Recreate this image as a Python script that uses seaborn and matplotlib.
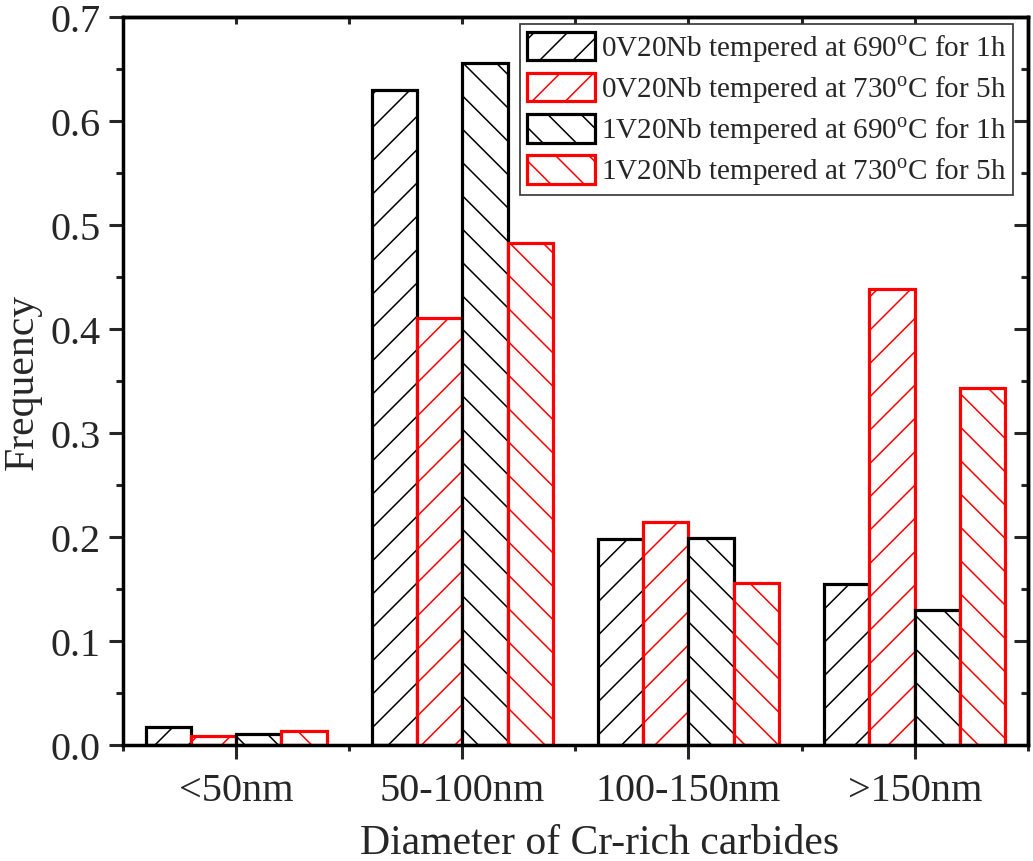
import numpy as np
import pandas as pd
import matplotlib
matplotlib.use("Agg")
import matplotlib.pyplot as plt
import matplotlib.patches as mpatches
from matplotlib.ticker import FormatStrFormatter, MultipleLocator, FixedLocator
import seaborn as sns

categories = ['<50nm', '50-100nm', '100-150nm', '>150nm']
series_labels = [
    '0V20Nb tempered at 690$^{\\mathrm{o}}$C for 1h',
    '0V20Nb tempered at 730$^{\\mathrm{o}}$C for 5h',
    '1V20Nb tempered at 690$^{\\mathrm{o}}$C for 1h',
    '1V20Nb tempered at 730$^{\\mathrm{o}}$C for 5h',
]
v_0V_690 = [0.0177, 0.630, 0.1986, 0.155]
v_0V_730 = [0.009, 0.411, 0.215, 0.439]
v_1V_690 = [0.011, 0.656, 0.199, 0.130]
v_1V_730 = [0.0138, 0.483, 0.156, 0.344]

edge_colors = ['black', '#ff0000', 'black', '#ff0000']
hatches = ['/', '/', '\\', '\\']

rows = []
for lab, vals in zip(series_labels, [v_0V_690, v_0V_730, v_1V_690, v_1V_730]):
    for c, v in zip(categories, vals):
        rows.append({'Diameter': c, 'Frequency': v, 'Sample': lab})
df = pd.DataFrame(rows)

sns.set_style('ticks')
plt.rcParams['font.family'] = ['Liberation Serif', 'DejaVu Serif']
plt.rcParams['mathtext.fontset'] = 'custom'
plt.rcParams['mathtext.rm'] = 'Liberation Serif'
plt.rcParams['hatch.linewidth'] = 1.1

fig = plt.figure(figsize=(10.33, 8.62), dpi=100)
ax = fig.add_axes([0.119, 0.134, 0.876, 0.845])

sns.barplot(data=df, x='Diameter', y='Frequency', hue='Sample',
            order=categories, hue_order=series_labels,
            palette=['white'] * 4, width=0.8, gap=0, ax=ax,
            errorbar=None, saturation=1)

for i, cont in enumerate(ax.containers):
    for p in cont.patches:
        p.set_facecolor('white')
        p.set_edgecolor(edge_colors[i])
        p.set_hatch(hatches[i])
        p.set_linewidth(2.3)

if ax.get_legend() is not None:
    ax.get_legend().remove()

handles = [mpatches.Patch(facecolor='white', edgecolor=edge_colors[i],
                          hatch=hatches[i], linewidth=2.3)
           for i in range(4)]
leg = ax.legend(handles, series_labels, loc='upper right',
                bbox_to_anchor=(0.984, 0.990), borderaxespad=0,
                fontsize=21, handlelength=2.3, handleheight=1.13,
                labelspacing=0.3, handletextpad=0.22, borderpad=0.25,
                fancybox=False, framealpha=1, edgecolor='#333333')
leg.get_frame().set_linewidth(1.2)

ax.set_xlim(-0.5, 3.5)
ax.set_ylim(0, 0.7)
ax.yaxis.set_major_locator(MultipleLocator(0.1))
ax.yaxis.set_minor_locator(MultipleLocator(0.05))
ax.yaxis.set_major_formatter(FormatStrFormatter('%.1f'))
ax.xaxis.set_minor_locator(FixedLocator([-0.5, 0.5, 1.5, 2.5, 3.5]))

ax.set_xlabel('Diameter of Cr-rich carbides', fontsize=30, labelpad=10.5)
ax.set_ylabel('Frequency', fontsize=30, labelpad=6)
ax.xaxis.label.set_x(0.527)

ax.tick_params(axis='both', which='major', labelsize=29, direction='out',
               length=10, width=2.2, pad=6)
ax.tick_params(axis='x', which='major', pad=9)
ax.tick_params(axis='both', which='minor', direction='out', length=5, width=2.2)
ax.tick_params(axis='x', which='minor', length=4)

for s in ax.spines.values():
    s.set_linewidth(2.5)
    s.set_visible(True)
    s.set_color('black')

secx = ax.secondary_xaxis('top')
secx.set_xticks([0, 1, 2, 3])
secx.set_xticks([-0.5, 0.5, 1.5, 2.5, 3.5], minor=True)
secx.set_xticklabels([])
secx.tick_params(which='both', direction='in', length=5, width=2.2)
secx.spines['top'].set_linewidth(2.5)

secy = ax.secondary_yaxis('right')
secy.yaxis.set_major_locator(MultipleLocator(0.1))
secy.yaxis.set_minor_locator(MultipleLocator(0.05))
secy.set_yticklabels([])
secy.tick_params(which='major', direction='in', length=10, width=2.2)
secy.tick_params(which='minor', direction='in', length=5, width=2.2)
secy.spines['right'].set_linewidth(2.5)

fig.savefig('out.png', dpi=100)
